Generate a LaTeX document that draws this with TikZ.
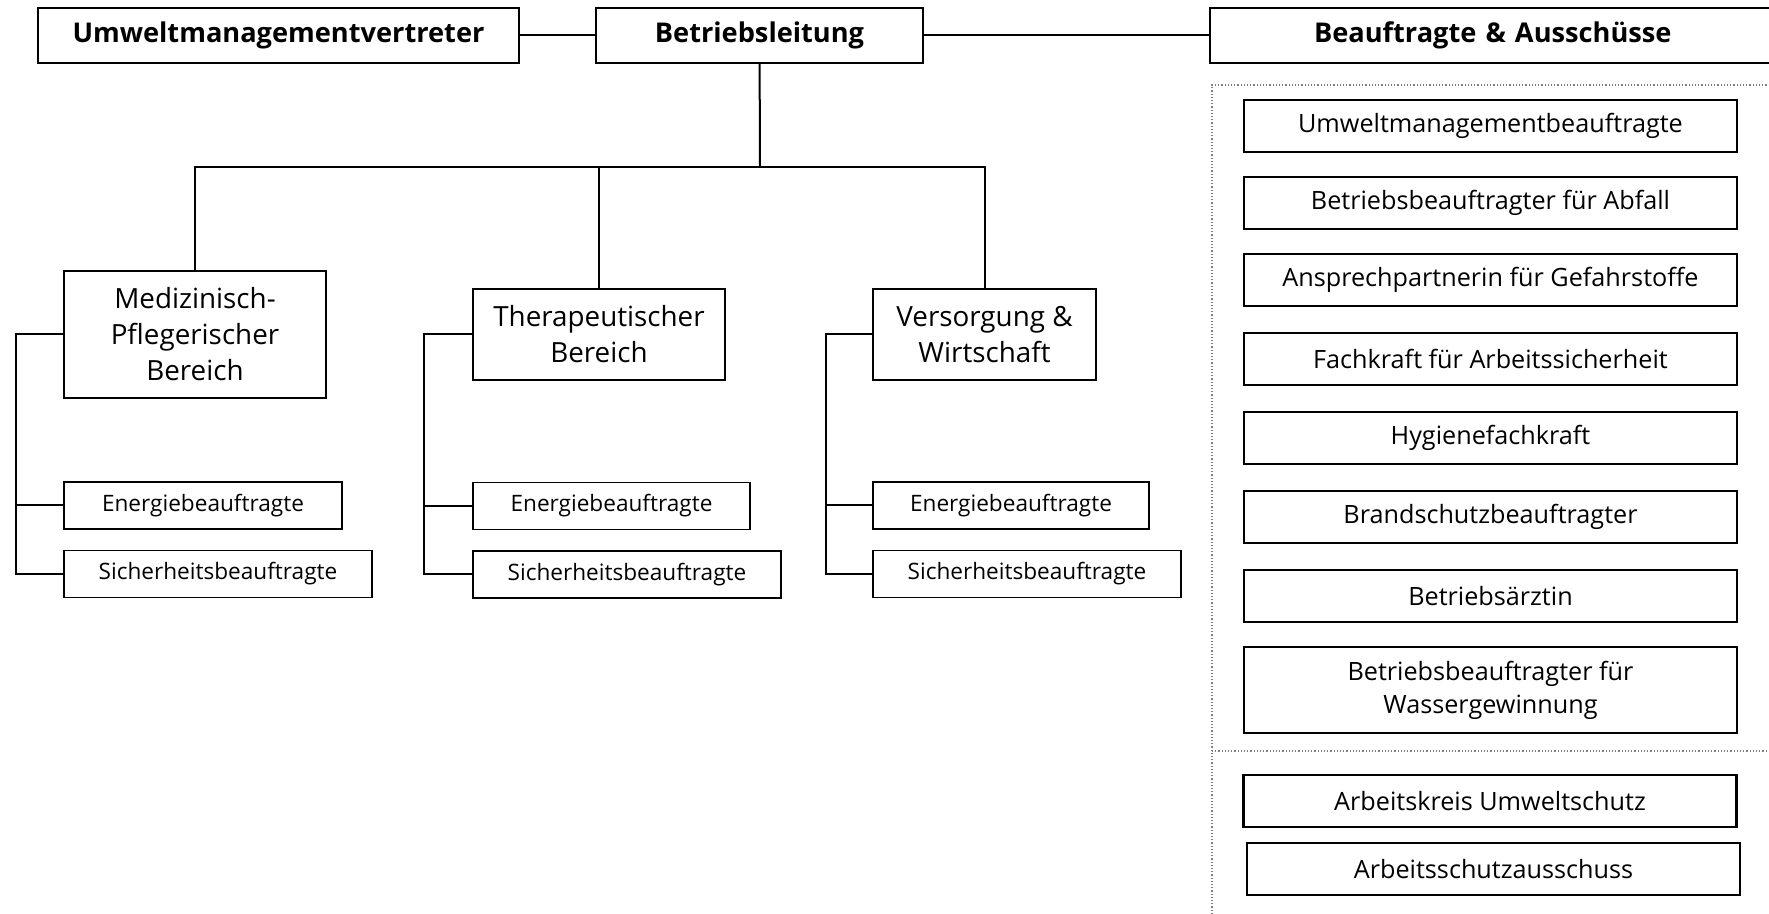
\documentclass[tikz,border=0pt]{standalone}
\usepackage{fontspec}
\setmainfont{Open Sans}
\usepackage{tikz}

\begin{document}
\begin{tikzpicture}[x=0.5pt, y=-0.5pt]
    % Define node styles
    \tikzstyle{head} = [draw, line width=1.1pt, minimum height=27.5pt, inner sep=0pt, font=\fontsize{13.6}{15}\selectfont\bfseries]
    \tikzstyle{area} = [draw, line width=1.1pt, inner sep=0pt, align=center, font=\fontsize{13.9}{18}\selectfont]
    \tikzstyle{role} = [draw, line width=0.7pt, minimum height=23.5pt, inner sep=0pt, font=\fontsize{11.3}{13}\selectfont]
    \tikzstyle{rbox} = [draw, line width=1.1pt, minimum width=246.5pt, minimum height=26pt, inner sep=0pt, align=center, font=\fontsize{12.6}{16.5}\selectfont]
    \tikzstyle{conn} = [line width=1pt]
    \tikzstyle{grp} = [densely dotted, gray, line width=0.6pt]

    \useasboundingbox (0,0) rectangle (1769,914);

    % Top row
    \node[head, minimum width=240.5pt] (umv) at (278.5,35.5) {Umweltmanagementvertreter};
    \node[head, minimum width=163.5pt] (bl) at (759.5,35.5) {Betriebsleitung};
    \node[head, minimum width=295pt, text width=275pt, align=left] (bae) at (1505,35.5) {\hspace*{42pt}Beauftragte \& Ausschüsse};

    % Areas
    \node[area, minimum width=131pt, minimum height=63.5pt] (med) at (195,334.5) {Medizinisch-\\Pflegerischer\\Bereich};
    \node[area, minimum width=126pt, minimum height=45.5pt] (ther) at (599,334.5) {Therapeutischer\\Bereich};
    \node[area, minimum width=111.5pt, minimum height=45.5pt] (vers) at (984.5,334.5) {Versorgung \&\\Wirtschaft};

    % Roles per area
    \node[role, minimum width=139pt] (enmed) at (203,505.5) {Energiebeauftragte};
    \node[role, minimum width=154pt] (simed) at (218,574) {Sicherheitsbeauftragte};
    \node[role, minimum width=138.5pt] (enther) at (611.5,506) {Energiebeauftragte};
    \node[role, minimum width=154pt] (sither) at (627,574.5) {Sicherheitsbeauftragte};
    \node[role, minimum width=138pt] (envers) at (1011,505.5) {Energiebeauftragte};
    \node[role, minimum width=154pt] (sivers) at (1027,574) {Sicherheitsbeauftragte};

    % Group on the right
    \draw[grp] (1212,930) -- (1212,85) -- (1780,85);
    \draw[grp] (1212,751) -- (1780,751);
    \node[rbox] (b1) at (1490.5,126) {Umweltmanagementbeauftragte};
    \node[rbox] (b2) at (1490.5,203) {Betriebsbeauftragter für Abfall};
    \node[rbox] (b3) at (1490.5,280) {Ansprechpartnerin für Gefahrstoffe};
    \node[rbox] (b4) at (1490.5,359) {Fachkraft für Arbeitssicherheit};
    \node[rbox] (b5) at (1490.5,438) {Hygienefachkraft};
    \node[rbox] (b6) at (1490.5,517) {Brandschutzbeauftragter};
    \node[rbox] (b7) at (1490.5,596) {Betriebsärztin};
    \node[rbox, minimum height=43pt] (b8) at (1490.5,690) {Betriebsbeauftragter für\\Wassergewinnung};
    \node[rbox] (k1) at (1490,801) {Arbeitskreis Umweltschutz};
    \node[rbox] (k2) at (1493.5,869) {Arbeitsschutzausschuss};

    % Connectors
    \draw[conn] (umv) -- (bl);
    \draw[conn] (bl) -- (bae);
    \coordinate (jn) at (760,167);
    \draw[conn] (bl) -- (jn);
    \draw[conn] (jn) -| (med.north);
    \draw[conn] (jn) -| (ther.north);
    \draw[conn] (jn) -| (vers.north);
    \draw[conn] (med.west) -- ++(-47,0) |- (enmed.west);
    \draw[conn] (med.west) -- ++(-47,0) |- (simed.west);
    \draw[conn] (ther.west) -- ++(-48,0) |- (enther.west);
    \draw[conn] (ther.west) -- ++(-48,0) |- (sither.west);
    \draw[conn] (vers.west) -- ++(-46,0) |- (envers.west);
    \draw[conn] (vers.west) -- ++(-46,0) |- (sivers.west);
\end{tikzpicture}
\end{document}
